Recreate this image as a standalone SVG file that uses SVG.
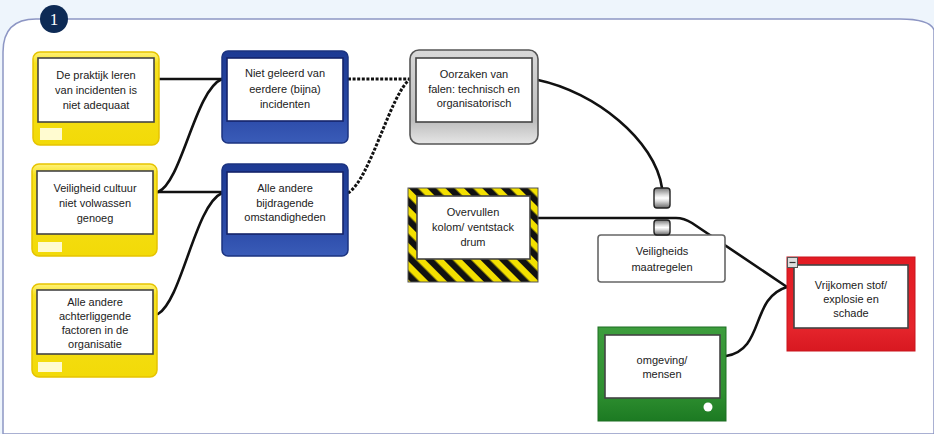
<svg xmlns="http://www.w3.org/2000/svg" width="934" height="434" viewBox="0 0 934 434">
<defs>
<style>
.t{font-family:"Liberation Sans",Arial,sans-serif;font-size:11px;fill:#222;text-anchor:middle}
.c{fill:none;stroke:#111;stroke-width:2.6;stroke-linecap:round}
.d{fill:none;stroke:#111;stroke-width:3;stroke-dasharray:3 1.6}
.inner{fill:#fff;stroke:#444;stroke-width:1.6}
.yel{fill:url(#gy);stroke:#e6c400;stroke-width:1.5}
.blu{fill:url(#gb);stroke:#1b3380;stroke-width:1.5}
.knob{fill:url(#gk);stroke:#222;stroke-width:1.4}
</style>
<linearGradient id="gy" x1="0" y1="0" x2="0" y2="1"><stop offset="0" stop-color="#fff27a"/><stop offset="0.12" stop-color="#f7e21e"/><stop offset="1" stop-color="#f2da08"/></linearGradient>
<linearGradient id="gb" x1="0" y1="0" x2="0" y2="1"><stop offset="0" stop-color="#1d3a93"/><stop offset="0.7" stop-color="#2b4aa8"/><stop offset="1" stop-color="#3a5cb8"/></linearGradient>
<linearGradient id="gg" x1="0" y1="0" x2="0" y2="1"><stop offset="0" stop-color="#d8d8d8"/><stop offset="0.75" stop-color="#bdbdbd"/><stop offset="1" stop-color="#e6e6e6"/></linearGradient>
<linearGradient id="gr" x1="0" y1="0" x2="0" y2="1"><stop offset="0" stop-color="#e31b23"/><stop offset="0.75" stop-color="#e5252c"/><stop offset="1" stop-color="#d81820"/></linearGradient>
<linearGradient id="ggr" x1="0" y1="0" x2="0" y2="1"><stop offset="0" stop-color="#3d9d3d"/><stop offset="0.7" stop-color="#2f8f30"/><stop offset="1" stop-color="#1c7a22"/></linearGradient>
<linearGradient id="gk" x1="0" y1="0" x2="0" y2="1"><stop offset="0" stop-color="#777"/><stop offset="0.35" stop-color="#ddd"/><stop offset="0.5" stop-color="#fff"/><stop offset="0.65" stop-color="#ddd"/><stop offset="1" stop-color="#666"/></linearGradient>
<pattern id="haz" patternUnits="userSpaceOnUse" width="13" height="13" patternTransform="rotate(-45)">
<rect width="13" height="13" fill="#f3e000"/><rect width="6.5" height="13" fill="#111"/>
</pattern>
</defs>

<rect width="934" height="434" fill="#eef5fc"/>
<path d="M3,434 L3,52 Q3,19 36,19 L900,19 Q930,19 934,30 L934,434 Z" fill="#fff" stroke="#8d96c4" stroke-width="1.5"/>
<g id="badge"><circle cx="54" cy="19" r="14" fill="#0d2a55"/><text x="54" y="25" style="font-family:'Liberation Serif',serif;font-size:17px;fill:#fff;text-anchor:middle">1</text></g>

<g id="connectors">
<path class="c" d="M159,79 L222,79"/>
<path class="c" d="M158,192 C182,182 195,90 222,79"/>
<path class="c" d="M157,192 L222,192"/>
<path class="c" d="M158,314 C182,300 195,205 222,193"/>
<path class="d" d="M348,79 L410,79"/>
<path class="d" d="M348,193 C370,180 390,95 410,79"/>
<path class="c" d="M538,80 C595,92 655,140 662,188"/>
<path class="c" d="M538,218 L676,218 Q684,218 692,223 L787,287"/>
<path class="c" d="M726,356 C765,350 750,298 787,287"/>
</g>

<g id="n1">
<rect class="yel" x="33" y="52" width="126" height="93" rx="7"/>
<rect class="inner" x="38" y="58" width="116" height="64"/>
<rect x="40" y="128" width="22" height="12" fill="#fffbd0"/>
<text class="t" x="96" y="79">De praktijk leren</text>
<text class="t" x="96" y="94">van incidenten is</text>
<text class="t" x="96" y="109">niet adequaat</text>
</g>
<g id="n2">
<rect class="yel" x="32" y="164" width="125" height="92" rx="7"/>
<rect class="inner" x="37" y="171" width="116" height="63"/>
<rect x="38" y="242" width="24" height="10" fill="#fffbd0"/>
<text class="t" x="95" y="192">Veiligheid cultuur</text>
<text class="t" x="95" y="207">niet volwassen</text>
<text class="t" x="95" y="222">genoeg</text>
</g>
<g id="n3">
<rect class="yel" x="32" y="284" width="125" height="93" rx="7"/>
<rect class="inner" x="37" y="290" width="116" height="64"/>
<rect x="38" y="362" width="24" height="10" fill="#fffbd0"/>
<text class="t" x="95" y="306">Alle andere</text>
<text class="t" x="95" y="320">achterliggende</text>
<text class="t" x="95" y="334">factoren in de</text>
<text class="t" x="95" y="348">organisatie</text>
</g>
<g id="n4">
<rect class="blu" x="222" y="51" width="126" height="92" rx="6"/>
<rect x="227" y="58" width="116" height="63" fill="#fff" stroke="#15246a" stroke-width="1.6"/>
<text class="t" x="285" y="77">Niet geleerd van</text>
<text class="t" x="285" y="93">eerdere (bijna)</text>
<text class="t" x="285" y="108">incidenten</text>
</g>
<g id="n5">
<rect class="blu" x="222" y="164" width="126" height="92" rx="6"/>
<rect x="227" y="172" width="116" height="62" fill="#fff" stroke="#15246a" stroke-width="1.6"/>
<text class="t" x="285" y="192">Alle andere</text>
<text class="t" x="285" y="207">bijdragende</text>
<text class="t" x="285" y="221">omstandigheden</text>
</g>
<g id="n6">
<rect x="410" y="50" width="128" height="94" rx="9" fill="url(#gg)" stroke="#555" stroke-width="1.6"/>
<rect class="inner" x="416" y="58" width="116" height="64"/>
<text class="t" x="474" y="78">Oorzaken van</text>
<text class="t" x="474" y="93">falen: technisch en</text>
<text class="t" x="474" y="107">organisatorisch</text>
</g>
<g id="n7">
<rect x="408" y="188" width="130" height="94" fill="url(#haz)" stroke="#555" stroke-width="1"/>
<rect class="inner" x="417" y="196" width="113" height="63"/>
<text class="t" x="473" y="216">Overvullen</text>
<text class="t" x="473" y="231">kolom/ ventstack</text>
<text class="t" x="473" y="246">drum</text>
</g>
<g id="n8">
<rect x="598" y="235" width="127" height="47" rx="3" fill="#fff" stroke="#666" stroke-width="1.6"/>
<rect class="knob" x="654" y="220" width="16" height="15" rx="3"/>
<text class="t" x="662" y="255">Veiligheids</text>
<text class="t" x="662" y="271">maatregelen</text>
</g>
<g id="k1">
<rect class="knob" x="654" y="188" width="16" height="20" rx="3"/>
</g>
<g id="n9">
<rect x="598" y="327" width="128" height="94" fill="url(#ggr)" stroke="#1d6e22" stroke-width="1"/>
<rect class="inner" x="605" y="335" width="115" height="63"/>
<circle cx="708" cy="407" r="4.5" fill="#fff"/>
<text class="t" x="662" y="364">omgeving/</text>
<text class="t" x="662" y="378">mensen</text>
</g>
<g id="n10">
<rect x="787" y="257" width="128" height="94" fill="url(#gr)" stroke="#c9151c" stroke-width="1"/>
<rect class="inner" x="794" y="265" width="114" height="63"/>
<rect x="787.5" y="257.5" width="10" height="10" fill="#ddd" stroke="#555" stroke-width="1"/>
<line x1="789.5" y1="262.5" x2="795.5" y2="262.5" stroke="#333" stroke-width="1.2"/>
<text class="t" x="851" y="289">Vrijkomen stof/</text>
<text class="t" x="851" y="303">explosie en</text>
<text class="t" x="851" y="317">schade</text>
</g>
</svg>
